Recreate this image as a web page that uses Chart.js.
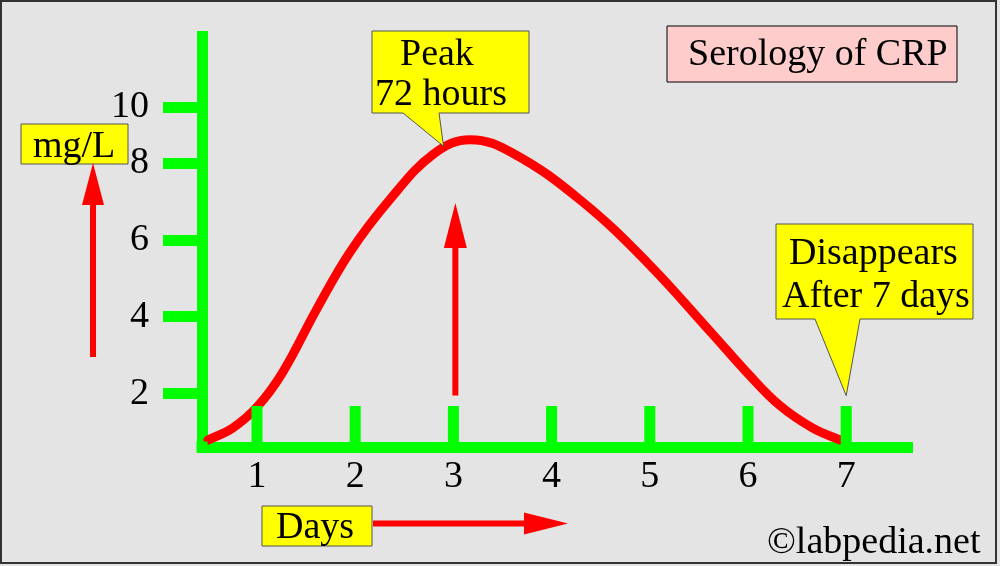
<!DOCTYPE html>
<html>
<head>
<meta charset="utf-8">
<title>Serology of CRP</title>
<script src="https://cdn.jsdelivr.net/npm/chart.js@4.4.1/dist/chart.umd.min.js"></script>
<style>
  html, body { margin: 0; padding: 0; background: #e4e4e4; }
  canvas { display: block; }
</style>
</head>
<body>
<canvas id="crpChart" width="1000" height="566"></canvas>
<script>
// CRP level (mg/L) over days
const days = [0.50, 0.75, 1.00, 1.26, 1.61, 1.95, 2.35, 2.80, 3.17, 3.61, 4.29, 4.97, 5.64, 5.99, 6.32, 6.66, 6.94];
const crp  = [0.79, 1.10, 1.65, 2.55, 4.21, 5.70, 7.05, 8.25, 8.62, 8.26, 7.05, 5.43, 3.55, 2.55, 1.70, 1.10, 0.79];

const xTickValues = [1, 2, 3, 4, 5, 6, 7];
// the "10" mark sits a bit low in the original drawing
const yTickValues = [2, 4, 6, 8, 9.47];
const yTickLabels = ['2', '4', '6', '8', '10'];

const GREEN  = '#00ff00';
const RED    = '#ff0000';
const YELLOW = '#ffff00';
const FONT   = '"Liberation Serif", "DejaVu Serif", serif';

function arrow(ctx, x1, y1, x2, y2, headLen, headHalf) {
  const ang = Math.atan2(y2 - y1, x2 - x1);
  const bx = x2 - Math.cos(ang) * headLen;
  const by = y2 - Math.sin(ang) * headLen;
  ctx.strokeStyle = RED;
  ctx.fillStyle = RED;
  ctx.lineWidth = 6;
  ctx.beginPath();
  ctx.moveTo(x1, y1);
  ctx.lineTo(bx, by);
  ctx.stroke();
  ctx.beginPath();
  ctx.moveTo(x2, y2);
  ctx.lineTo(bx + Math.sin(ang) * headHalf, by - Math.cos(ang) * headHalf);
  ctx.lineTo(bx - Math.sin(ang) * headHalf, by + Math.cos(ang) * headHalf);
  ctx.closePath();
  ctx.fill();
}

function box(ctx, pts, fill, stroke) {
  ctx.beginPath();
  ctx.moveTo(pts[0][0], pts[0][1]);
  for (let i = 1; i < pts.length; i++) ctx.lineTo(pts[i][0], pts[i][1]);
  ctx.closePath();
  ctx.fillStyle = fill;
  ctx.fill();
  ctx.lineWidth = 1;
  ctx.strokeStyle = stroke;
  ctx.stroke();
}

function text(ctx, str, x, y) {
  ctx.fillStyle = '#000';
  ctx.font = '38px ' + FONT;
  ctx.textAlign = 'left';
  ctx.textBaseline = 'alphabetic';
  ctx.fillText(str, x, y);
}

const backgroundPlugin = {
  id: 'background',
  beforeDraw(chart) {
    const ctx = chart.ctx;
    ctx.save();
    ctx.fillStyle = '#e4e4e4';
    ctx.fillRect(0, 0, chart.width, chart.height);
    ctx.restore();
  }
};

const decorPlugin = {
  id: 'decor',
  afterDraw(chart) {
    const ctx = chart.ctx;
    const xs = chart.scales.x;
    const ys = chart.scales.y;
    const bottom = chart.chartArea.bottom;
    ctx.save();

    // upward day ticks on the x axis
    ctx.fillStyle = GREEN;
    xTickValues.forEach(v => {
      const px = xs.getPixelForValue(v);
      ctx.fillRect(px - 5.5, bottom - 41, 11, 41);
    });
    ctx.fillRect(chart.chartArea.left - 5.5, bottom - 5.5, 11, 11);

    // title
    box(ctx, [[667, 26], [957, 26], [957, 82], [667, 82]], '#ffcccc', '#000');
    text(ctx, 'Serology of CRP', 688, 65);

    // peak callout
    const peakX = xs.getPixelForValue(2.9), peakY = ys.getPixelForValue(8.45);
    box(ctx, [[372, 31], [529, 31], [529, 113], [439, 113], [peakX, peakY], [403, 113], [372, 113]], YELLOW, '#555');
    text(ctx, 'Peak', 400, 65);
    text(ctx, '72 hours', 375, 105);

    // disappears callout
    const goneX = xs.getPixelForValue(7), goneY = ys.getPixelForValue(1.95);
    box(ctx, [[776, 224], [973, 224], [973, 319], [860, 319], [goneX, goneY], [815, 319], [776, 319]], YELLOW, '#555');
    text(ctx, 'Disappears', 789, 264);
    text(ctx, 'After 7 days', 782, 307);

    // axis title boxes
    box(ctx, [[21, 124], [128, 124], [128, 164], [21, 164]], YELLOW, '#555');
    text(ctx, 'mg/L', 33, 157);
    box(ctx, [[262, 506], [372, 506], [372, 546], [262, 546]], YELLOW, '#555');
    text(ctx, 'Days', 276, 538);

    // arrows
    arrow(ctx, 93, 357, 93, 163, 42, 11);
    const midX = xs.getPixelForValue(3.02);
    arrow(ctx, midX, ys.getPixelForValue(1.95), midX, ys.getPixelForValue(6.97), 45, 11.5);
    arrow(ctx, 373, 523.5, 568, 523.5, 44, 11);

    text(ctx, '\u00a9labpedia.net', 767, 553);

    // frame
    ctx.lineWidth = 2;
    ctx.strokeStyle = '#333';
    ctx.strokeRect(1, 1, 995, 562);
    ctx.restore();
  }
};

new Chart(document.getElementById('crpChart'), {
  type: 'line',
  data: {
    datasets: [{
      label: 'CRP',
      data: days.map((d, i) => ({ x: d, y: crp[i] })),
      borderColor: RED,
      borderWidth: 9,
      borderCapStyle: 'round',
      pointRadius: 0,
      tension: 0.4,
      fill: false
    }]
  },
  options: {
    responsive: false,
    animation: false,
    layout: { padding: { top: 32, right: 88, left: 0, bottom: 0 } },
    plugins: {
      legend: { display: false },
      tooltip: { enabled: false }
    },
    scales: {
      x: {
        type: 'linear',
        min: 0.44,
        max: 7.67,
        z: 1,
        afterFit: s => { s.height = 119; },
        afterBuildTicks: s => { s.ticks = xTickValues.map(v => ({ value: v })); },
        border: { color: GREEN, width: 11 },
        grid: { display: false, drawTicks: false },
        ticks: {
          padding: 7,
          color: '#000',
          font: { family: FONT, size: 38 },
          callback: v => String(v)
        }
      },
      y: {
        type: 'linear',
        min: 0.61,
        max: 11.30,
        z: 1,
        afterFit: s => { s.width = 202; },
        afterBuildTicks: s => { s.ticks = yTickValues.map(v => ({ value: v })); },
        border: { color: GREEN, width: 11 },
        grid: { drawOnChartArea: false, drawTicks: true, tickLength: 39, lineWidth: 11, color: GREEN },
        ticks: {
          padding: 14,
          color: '#000',
          font: { family: FONT, size: 38 },
          callback: (v, i) => yTickLabels[i]
        }
      }
    }
  },
  plugins: [backgroundPlugin, decorPlugin]
});
</script>
</body>
</html>
